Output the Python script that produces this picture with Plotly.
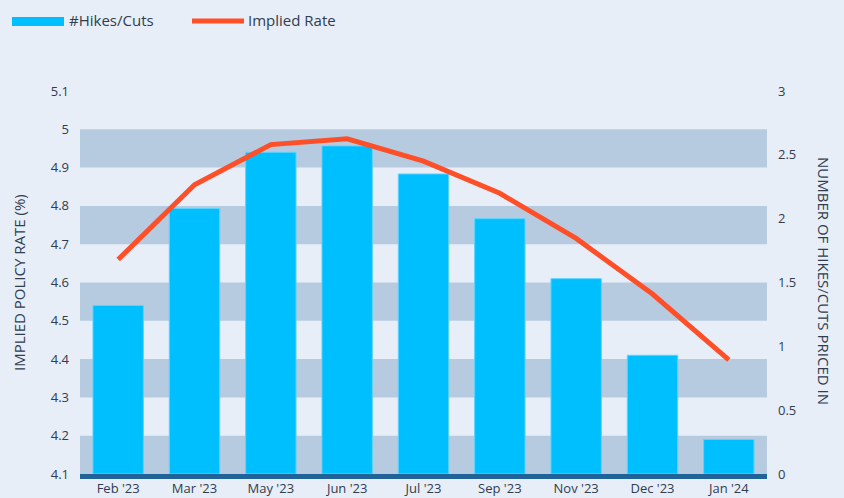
import plotly.graph_objects as go

months = ["Feb '23", "Mar '23", "May '23", "Jun '23", "Jul '23", "Sep '23", "Nov '23", "Dec '23", "Jan '24"]
hikes_cuts = [1.32, 2.08, 2.52, 2.57, 2.35, 2.0, 1.53, 0.93, 0.27]
implied_rate = [4.66, 4.855, 4.96, 4.975, 4.917, 4.833, 4.715, 4.57, 4.398]

left_ticks = [4.1, 4.2, 4.3, 4.4, 4.5, 4.6, 4.7, 4.8, 4.9, 5.0, 5.1]
left_ticktext = ["4.1", "4.2", "4.3", "4.4", "4.5", "4.6", "4.7", "4.8", "4.9", "5", "5.1"]
right_ticks = [0, 0.5, 1, 1.5, 2, 2.5, 3]
right_ticktext = ["0", "0.5", "1", "1.5", "2", "2.5", "3"]
band_ranges = [(4.1, 4.2), (4.3, 4.4), (4.5, 4.6), (4.7, 4.8), (4.9, 5.0)]

BLUE = "#00BFFF"
RED = "#FF4F28"
BAND = "#B6CBDF"
BG = "#E8EEF8"
TXT = "#2E3D4F"
FONT = "Open Sans"

fig = go.Figure()
fig.add_trace(go.Bar(
    x=months, y=hikes_cuts, name="#Hikes/Cuts", yaxis="y",
    marker=dict(color=BLUE, line=dict(color="#5DD3FF", width=1)),
    showlegend=False,
))
fig.add_trace(go.Scatter(
    x=months, y=implied_rate, name="Implied Rate", yaxis="y2", mode="lines",
    line=dict(color=RED, width=5), showlegend=False,
))

shapes = []
for lo, hi in band_ranges:
    shapes.append(dict(type="rect", xref="paper", yref="y2", x0=0, x1=1, y0=lo, y1=hi,
                       fillcolor=BAND, line=dict(width=0), layer="below"))
# legend symbols
shapes.append(dict(type="rect", xref="paper", yref="paper",
                   x0=(12 - 80) / 687, x1=(64 - 80) / 687,
                   y0=(474 - 26) / 383, y1=(474 - 17) / 383,
                   fillcolor=BLUE, line=dict(width=0)))
shapes.append(dict(type="line", xref="paper", yref="paper",
                   x0=(192 - 80) / 687, x1=(244 - 80) / 687,
                   y0=(474 - 21) / 383, y1=(474 - 21) / 383,
                   line=dict(color=RED, width=5)))

annotations = [
    dict(text="#Hikes/Cuts", xref="paper", yref="paper", x=(67 - 80) / 687, y=(474 - 20) / 383,
         xanchor="left", yanchor="middle", showarrow=False, font=dict(size=15, color=TXT, family=FONT)),
    dict(text="Implied Rate", xref="paper", yref="paper", x=(246 - 80) / 687, y=(474 - 20) / 383,
         xanchor="left", yanchor="middle", showarrow=False, font=dict(size=15, color=TXT, family=FONT)),
    dict(text="IMPLIED POLICY RATE (%)", xref="paper", yref="paper", x=(19 - 80) / 687, y=(474 - 283) / 383,
         xanchor="center", yanchor="middle", textangle=-90, showarrow=False,
         font=dict(size=15, color=TXT, family=FONT)),
    dict(text="NUMBER OF HIKES/CUTS PRICED IN", xref="paper", yref="paper", x=(824 - 80) / 687, y=(474 - 281) / 383,
         xanchor="center", yanchor="middle", textangle=90, showarrow=False,
         font=dict(size=15, color=TXT, family=FONT)),
]

fig.update_layout(
    width=844, height=498,
    margin=dict(l=80, r=77, t=91, b=24),
    paper_bgcolor=BG, plot_bgcolor=BG,
    font=dict(family=FONT, size=13, color=TXT),
    bargap=0.34,
    shapes=shapes, annotations=annotations,
    xaxis=dict(showgrid=False, showline=True, linecolor="#1F6399", linewidth=5,
               ticks="", tickfont=dict(size=13, color=TXT), zeroline=False, automargin=False,
               ticklabelstandoff=-2),
    yaxis=dict(range=[0, 3], side="right", tickvals=right_ticks, ticktext=right_ticktext,
               showgrid=False, zeroline=False, ticks="", ticklabelstandoff=10, automargin=False,
               tickfont=dict(size=13, color=TXT)),
    yaxis2=dict(range=[4.1, 5.1], side="left", overlaying="y", tickvals=left_ticks, ticktext=left_ticktext,
                showgrid=False, zeroline=False, ticks="", ticklabelstandoff=10, automargin=False,
                tickfont=dict(size=13, color=TXT)),
    showlegend=False,
)

fig.write_html("out.html", config={"displayModeBar": False},
               post_script="document.body.style.margin='0';document.body.style.background='#E8EEF8';document.body.style.overflow='hidden';")
